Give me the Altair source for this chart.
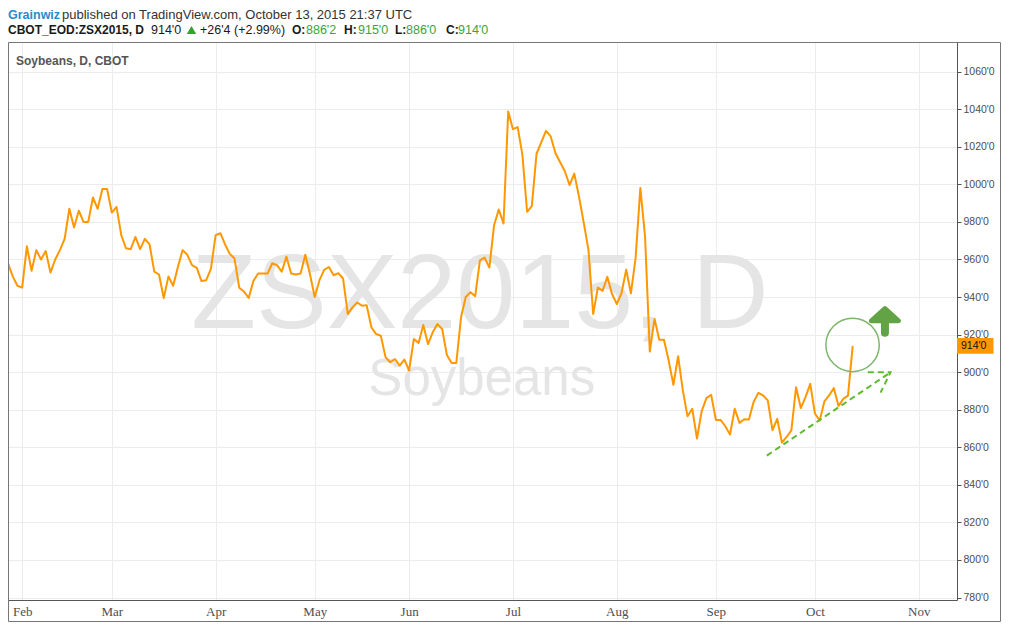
import altair as alt
import pandas as pd

# ---------------- data ----------------
first_bar = -3  # bar index of first close (bar 0 = first trading day of Feb 2015)
prices = [
    958, 951, 946, 945, 967, 954, 965, 960, 964.5, 953,
    960, 965, 971, 987, 977, 986, 980, 980, 993, 987,
    997.5, 997.5, 985, 988, 973, 966, 965.5, 972, 965.5, 971,
    968, 953.5, 952, 939.5, 951, 946, 956, 965, 962.5, 957,
    955.5, 948.5, 949, 955, 973, 974, 968, 963, 960.5, 945,
    943, 939.5, 948.5, 952.5, 952.5, 952.5, 958, 957, 953.5, 961.5,
    952.5, 952, 952.5, 962.5, 952, 940, 949, 954.5, 956, 951.6,
    952.7, 949.9, 931, 934.5, 937.1, 935.4, 935.7, 923.9, 920.3, 919.4,
    908, 905.3, 907, 903.5, 906.7, 900.9, 917.7, 915.6, 925.1, 915,
    921.2, 925.6, 923, 909.2, 904.9, 904.9, 929.2, 940, 942.6, 940.5,
    959.5, 961, 955.7, 978.2, 986.6, 979.2, 1038.8, 1029.4, 1030.5, 1015.8,
    985.4, 988.4, 1016.3, 1022.4, 1028.5, 1025.5, 1016.7, 1011.8, 1007, 999.6,
    1005.7, 993.4, 979.6, 965.1, 931, 945.1, 943.3, 950.8, 941.6, 936.3,
    942, 954.6, 942, 961, 998.1, 972, 911, 928.5, 917.3, 917.3,
    906.2, 893.3, 908.5, 890.3, 876.5, 880.5, 864.7, 879.3, 886.2, 888,
    874.6, 874.6, 871.2, 866.8, 880.5, 873, 874.9, 874.8, 884.1, 889,
    887.6, 885, 869.1, 875.2, 862.5, 865.5, 869, 892, 880.9, 886.7,
    893.8, 877.9, 874.3, 884.4, 887.6, 891.5, 882, 885.8, 887.5, 914,
]
bars = list(range(first_bar, first_bar + len(prices)))

month_bars = [0, 19, 41, 62, 82, 104, 126, 147, 168, 190]
month_labels = ["Feb", "Mar", "Apr", "May", "Jun", "Jul", "Aug", "Sep", "Oct", "Nov"]
y_ticks = [780, 800, 820, 840, 860, 880, 900, 920, 940, 960, 980, 1000, 1020, 1040, 1060]

last_price = 914
last_label = "914'0"

# annotations (bar index, price)
trend_bar = [157.8, 184.0, 179.2, 184.0, 181.9]
trend_price = [855.6, 899.9, 899.9, 899.9, 889.1]
trend_group = ["line", "line", "head", "head", "head"]
trend_order = [0, 1, 0, 1, 2]
circle_bar = [175.97]
circle_price = [914.5]
arrow_bar = [182.83]
arrow_head_price = [930.6]
shaft_top = [929.6]
shaft_bottom = [921.0]

df = pd.DataFrame({"bar": bars, "price": prices})
trend_df = pd.DataFrame({"bar": trend_bar, "price": trend_price, "g": trend_group, "o": trend_order})
circle_df = pd.DataFrame({"bar": circle_bar, "price": circle_price})
arrow_df = pd.DataFrame({"bar": arrow_bar, "price": arrow_head_price, "top": shaft_top, "bottom": shaft_bottom})

# ---------------- scales / axes ----------------
xscale = alt.Scale(domain=[-3, 198.1], nice=False, zero=False)
yscale = alt.Scale(domain=[778.7, 1075.8], nice=False, zero=False)

label_expr = ("[" + ",".join("'%s'" % m for m in month_labels) + "][indexof(["
              + ",".join(str(b) for b in month_bars) + "], datum.value)]")

x_axis = alt.Axis(values=month_bars, labelExpr=label_expr, title=None, grid=True,
                  gridColor="#ececec", ticks=False, domainColor="#555555",
                  labelColor="#4d4d4d", labelFont="Liberation Sans Narrow",
                  labelFontSize=13, labelPadding=5, labelFlush=False, labelOverlap=False)
y_axis = alt.Axis(orient="right", values=y_ticks, labelExpr="datum.value + \"'0\"",
                  title=None, grid=True, gridColor="#ececec", tickColor="#555555",
                  tickSize=4, domainColor="#555555", labelColor="#4d4d4d",
                  labelFont="Liberation Sans", labelFontSize=10.5, labelPadding=2,
                  labelFlush=False, labelOverlap=False)

one = alt.Data(values=[{}])


def xq(field):
    return alt.X(field, type="quantitative", scale=xscale, axis=x_axis)


def yq(field):
    return alt.Y(field, type="quantitative", scale=yscale, axis=y_axis)


# ---------------- layers ----------------
watermark1 = alt.Chart(one).mark_text(
    text="ZSX2015, D", font="Liberation Sans", fontSize=106, color="#e5e5e5",
    align="center", baseline="alphabetic"
).encode(x=alt.X(datum=97.0, scale=xscale, axis=x_axis), y=alt.Y(datum=923.7, scale=yscale, axis=y_axis))

watermark2 = alt.Chart(one).mark_text(
    text="Soybeans", font="Liberation Sans", fontSize=51, color="#e5e5e5",
    align="center", baseline="alphabetic"
).encode(x=alt.X(datum=97.4, scale=xscale, axis=x_axis), y=alt.Y(datum=887.6, scale=yscale, axis=y_axis))

line = alt.Chart(df).mark_line(color="#ff9800", strokeWidth=2, clip=True, strokeJoin="round").encode(
    x=xq("bar"), y=yq("price"),
)

trend = alt.Chart(trend_df).mark_line(color="#5dbb2f", strokeWidth=2, strokeDash=[6, 4]).encode(
    x=xq("bar"), y=yq("price"), detail="g:N", order="o:Q"
)

circle = alt.Chart(circle_df).mark_point(shape="circle", size=2850, filled=False,
                                         stroke="#7cb66c", strokeWidth=1.5, opacity=1).encode(
    x=xq("bar"), y=yq("price")
)

arrow_head = alt.Chart(arrow_df).mark_point(
    shape="M0,-0.45L1,0.45L-1,0.45Z", size=729, filled=True, color="#62a346",
    stroke="#62a346", strokeWidth=5, strokeJoin="round", opacity=1
).encode(x=xq("bar"), y=yq("price"))

arrow_shaft = alt.Chart(arrow_df).mark_rule(color="#62a346", strokeWidth=8, strokeCap="round").encode(
    x=xq("bar"), y=yq("top"), y2="bottom:Q"
)

price_box = alt.Chart(one).mark_rect(color="#ff9800").encode(
    x=alt.value(949), x2=alt.value(985.5),
    y=alt.Y(datum=last_price + 4.2, scale=yscale, axis=y_axis), y2=alt.Y2(datum=last_price - 4.2)
)
price_text = alt.Chart(one).mark_text(
    text=last_label, font="Liberation Sans", fontSize=10.5, color="#111111",
    align="left", baseline="middle"
).encode(x=alt.value(953), y=alt.Y(datum=last_price, scale=yscale, axis=y_axis))

frame = alt.Chart(one).mark_rect(fillOpacity=0, stroke="#767676", strokeWidth=1).encode(
    x=alt.value(0.5), x2=alt.value(992.5), y=alt.value(0.5), y2=alt.value(579.5)
)


def txt(s, x, y, color="#333333", weight="normal", size=13, font="Liberation Sans"):
    return alt.Chart(one).mark_text(
        text=s, font=font, fontSize=size, fontWeight=weight, color=color,
        align="left", baseline="alphabetic"
    ).encode(x=alt.value(x), y=alt.value(y))


green = "#37a637"
header = [
    txt("Grainwiz", 0, -23, color="#2b8ccb", weight="bold", size=12.5),
    txt("published on TradingView.com, October 13, 2015 21:37 UTC", 54, -23, color="#333333", size=13),
    txt("CBOT_EOD:ZSX2015, D", 0, -8, color="#1a1a1a", weight="bold", size=12),
    txt("914'0", 143, -8, color="#1a1a1a", size=12.5),
    txt("+26'4 (+2.99%)", 192, -8, color="#1a1a1a", size=12.5),
    txt("O:", 284, -8, color="#1a1a1a", weight="bold", size=12),
    txt("886'2", 298, -8, color=green, size=12.5),
    txt("H:", 336, -8, color="#1a1a1a", weight="bold", size=12),
    txt("915'0", 350, -8, color=green, size=12.5),
    txt("L:", 387, -8, color="#1a1a1a", weight="bold", size=12),
    txt("886'0", 398, -8, color=green, size=12.5),
    txt("C:", 438, -8, color="#1a1a1a", weight="bold", size=12),
    txt("914'0", 450, -8, color=green, size=12.5),
    txt("Soybeans, D, CBOT", 8, 23, color="#555555", weight="bold", size=12),
]
tri = alt.Chart(one).mark_point(shape="triangle-up", filled=True, color="#2ea52e", size=90, opacity=1).encode(
    x=alt.value(183.5), y=alt.value(-12)
)

chart = alt.layer(
    watermark1, watermark2, line, trend, circle, arrow_shaft, arrow_head,
    price_box, price_text, frame, tri, *header
).properties(
    width=949, height=558,
    autosize=alt.AutoSizeParams(type="none"),
    padding={"left": 0, "top": 34, "right": 44, "bottom": 22},
    background="white",
).configure_view(strokeWidth=0)

chart.save("out.html", embed_options={"renderer": "svg", "actions": False})
